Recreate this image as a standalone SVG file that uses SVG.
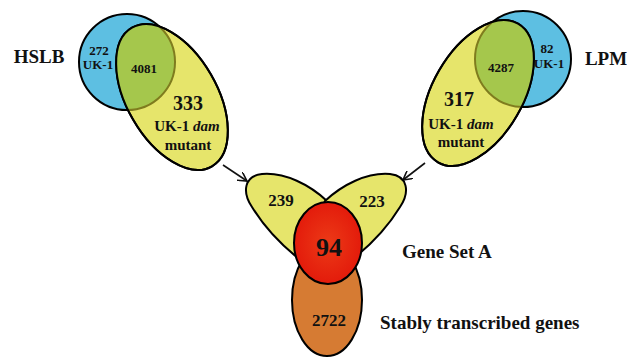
<svg xmlns="http://www.w3.org/2000/svg" width="627" height="358" viewBox="0 0 627 358">
<style>
text{font-family:"Liberation Serif","Times New Roman",serif;font-weight:bold;fill:#111;text-anchor:middle}
.o{stroke:#000;stroke-width:2}
.blue{fill:#5dbfe2}
.yel{fill:#e6e56b}
.grn{fill:#a5c74c;stroke:#7f7c1e;stroke-width:2}
.ns{fill:none}
.conn{stroke:#111;stroke-width:1.6;fill:none}
</style>
<defs>
<marker id="ah" viewBox="0 0 10 10" refX="9" refY="5" markerWidth="10" markerHeight="10" markerUnits="userSpaceOnUse" orient="auto">
<path d="M0,0 L9,5 L0,10" fill="none" stroke="#111" stroke-width="1.6"/>
</marker>
<clipPath id="cl"><ellipse cx="172" cy="97" rx="80" ry="45" transform="rotate(60 172 97)"/></clipPath>
<clipPath id="cr"><ellipse cx="478" cy="93" rx="80" ry="45" transform="rotate(-60 478 93)"/></clipPath>
<radialGradient id="rg" cx="0.5" cy="0.5" r="0.5">
<stop offset="0" stop-color="#ec3a17"/><stop offset="1" stop-color="#e31b0b"/>
</radialGradient>
</defs>
<g id="hslb">
<circle class="blue o" cx="127" cy="62" r="48"/>
<ellipse class="yel o" cx="172" cy="97" rx="80" ry="45" transform="rotate(60 172 97)"/>
<circle class="grn" cx="127" cy="62" r="48" clip-path="url(#cl)"/>
<ellipse class="ns o" cx="172" cy="97" rx="80" ry="45" transform="rotate(60 172 97)"/>
<text x="39" y="63" font-size="19">HSLB</text>
<text x="99" y="55" font-size="13">272</text>
<text x="98" y="69" font-size="13">UK-1</text>
<text x="144" y="73" font-size="13">4081</text>
<text x="188" y="110" font-size="20">333</text>
<text x="187" y="131" font-size="15">UK-1 <tspan font-style="italic">dam</tspan></text>
<text x="188" y="150" font-size="15">mutant</text>
</g>
<g id="lpm">
<circle class="blue o" cx="523" cy="59" r="48"/>
<ellipse class="yel o" cx="478" cy="93" rx="80" ry="45" transform="rotate(-60 478 93)"/>
<circle class="grn" cx="523" cy="59" r="48" clip-path="url(#cr)"/>
<ellipse class="ns o" cx="478" cy="93" rx="80" ry="45" transform="rotate(-60 478 93)"/>
<text x="606" y="65" font-size="19">LPM</text>
<text x="547" y="53" font-size="13">82</text>
<text x="549" y="68" font-size="13">UK-1</text>
<text x="501" y="72" font-size="13">4287</text>
<text x="459" y="106" font-size="20">317</text>
<text x="461" y="129" font-size="15">UK-1 <tspan font-style="italic">dam</tspan></text>
<text x="461" y="147" font-size="15">mutant</text>
</g>
<g id="connectors">
<line class="conn" x1="223" y1="165" x2="247" y2="181" marker-end="url(#ah)"/>
<line class="conn" x1="425" y1="163" x2="403" y2="180" marker-end="url(#ah)"/>
</g>
<g id="geneSetA">
<path class="yel o" d="M327,201 C310,185 285,172 262,174 C244,176 242,192 252,207 C263,225 282,246 303,262 L345,235 Z"/>
<path class="yel o" d="M325,201 C342,185 367,172 390,174 C408,176 410,192 400,207 C389,225 370,246 349,262 L307,235 Z"/>
<ellipse class="o" fill="#d67b33" cx="327" cy="300" rx="35" ry="56"/>
<ellipse class="o" fill="url(#rg)" cx="328" cy="243" rx="34" ry="41"/>
<text x="281" y="206" font-size="17">239</text>
<text x="372" y="207" font-size="17">223</text>
<text x="329" y="256" font-size="26">94</text>
<text x="329" y="326" font-size="17">2722</text>
<text x="402" y="258" font-size="19" style="text-anchor:start">Gene Set A</text>
<text x="380" y="329" font-size="19" style="text-anchor:start">Stably transcribed genes</text>
</g>
</svg>
